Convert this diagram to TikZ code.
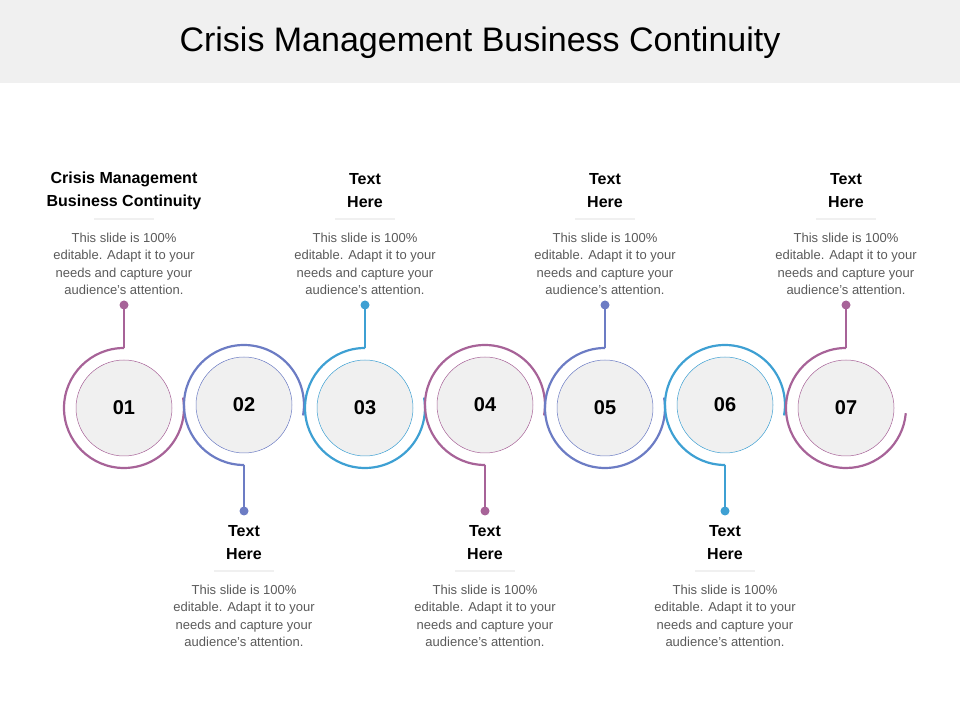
\documentclass[tikz,border=0pt]{standalone}
\usepackage{fontspec}
\setmainfont{Liberation Sans}
\definecolor{cpurple}{RGB}{167,99,152}
\definecolor{cviolet}{RGB}{108,124,196}
\definecolor{csky}{RGB}{62,160,211}
\definecolor{band}{RGB}{240,240,240}
\definecolor{bodygray}{RGB}{90,90,90}

\begin{document}
\begin{tikzpicture}[
  x=1pt,y=1pt,
  ring/.style={line width=2.2pt},
  inner/.style={circle,fill=band,minimum size=96pt,line width=0.5pt,
    font={\fontsize{20}{20}\selectfont\bfseries}},
  head/.style={align=center,font={\fontsize{16}{23}\selectfont\bfseries}},
  body/.style={align=center,text=bodygray,font={\fontsize{13}{17.5}\selectfont}},
  ]
  \useasboundingbox (0,0) rectangle (960,720);
  % Title band
  \fill[band] (0,637) rectangle (960,720);
  \node[font={\fontsize{34}{34}\selectfont}] (title) at (480,677)
    {Crisis Management Business Continuity};
  % Rings, stems and labels
  \foreach \i/\cx/\col/\hd in {%
      1/124/cpurple/{Crisis Management\\Business Continuity},
      2/244/cviolet/{Text\\Here},
      3/365/csky/{Text\\Here},
      4/485/cpurple/{Text\\Here},
      5/605/cviolet/{Text\\Here},
      6/725/csky/{Text\\Here},
      7/846/cpurple/{Text\\Here}}{
    \ifodd\i
      \coordinate (c\i) at (\cx,312);
      \node[inner,draw=\col] (n\i) at (c\i) {0\i};
      \ifnum\i=7
        \draw[ring,\col] (\cx,372) arc (90:355:60);
      \else
        \draw[ring,\col] (\cx,372) arc (90:370:60);
      \fi
      \coordinate (d\i) at (\cx,415);
      \draw[ring,\col] (\cx,372) -- (d\i);
      \fill[\col] (d\i) circle (4.5);
      \node[head] (h\i) at (\cx,529) {\hd};
      \draw[band,line width=2pt] (\cx-30,501) -- (\cx+30,501);
      \node[body] (b\i) at (\cx,456) {This slide is 100\%\\editable. Adapt it to your\\needs and capture your\\audience's attention.};
    \else
      \coordinate (c\i) at (\cx,315);
      \node[inner,draw=\col] (n\i) at (c\i) {0\i};
      \draw[ring,\col] (\cx,255) arc (270:-10:60);
      \coordinate (d\i) at (\cx,209);
      \draw[ring,\col] (\cx,255) -- (d\i);
      \fill[\col] (d\i) circle (4.5);
      \node[head] (h\i) at (\cx,177) {\hd};
      \draw[band,line width=2pt] (\cx-30,149) -- (\cx+30,149);
      \node[body] (b\i) at (\cx,104) {This slide is 100\%\\editable. Adapt it to your\\needs and capture your\\audience's attention.};
    \fi
  }
\end{tikzpicture}
\end{document}
